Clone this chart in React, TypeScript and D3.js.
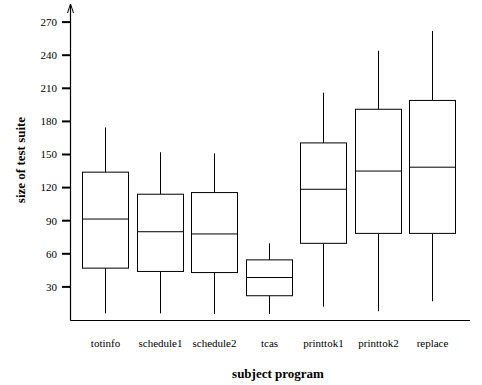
import * as d3 from 'd3'

const programs = ['totinfo', 'schedule1', 'schedule2', 'tcas', 'printtok1', 'printtok2', 'replace']
const whiskerLow = [6, 6, 5.5, 5.5, 12, 8, 17]
const q1 = [47, 44, 43, 22, 69.5, 78.5, 78.5]
const medians = [91.5, 80, 78, 38.5, 118.5, 135, 138.5]
const q3 = [134, 114, 115.5, 54.5, 160.5, 191, 199]
const whiskerHigh = [174.5, 152, 151, 69.5, 206, 244, 262]
const yTicks = [30, 60, 90, 120, 150, 180, 210, 240, 270]

const W = 482
const H = 385
const font = '"Liberation Serif", "Times New Roman", serif'

export default function App() {
  const x = d3.scaleBand<string>()
    .domain(programs)
    .range([78, 459.5])
    .paddingInner(0.165)
    .paddingOuter(0.0825)

  const y = d3.scaleLinear().domain([0, 30]).range([320, 286.9])

  const axisX = 70.5
  const baseY = 320.5
  const bw = x.bandwidth()

  return (
    <svg width={W} height={H} style={{ position: 'absolute', left: 0, top: 0, background: '#fff' }}>
      {/* y axis with arrow */}
      <line x1={axisX} x2={axisX} y1={baseY} y2={4} stroke="#000" strokeWidth={1.2} />
      <path d={`M${axisX - 3},${13} L${axisX},${4} L${axisX + 3},${13}`} fill="none" stroke="#000" strokeWidth={1} />
      {/* x axis */}
      <line x1={axisX} x2={470} y1={baseY} y2={baseY} stroke="#000" strokeWidth={1.2} />

      {yTicks.map(t => (
        <g key={t}>
          <line x1={62} x2={axisX} y1={y(t)} y2={y(t)} stroke="#000" strokeWidth={2} />
          <text x={57} y={y(t)} dy="0.35em" textAnchor="end" fontFamily={font} fontSize={11}>{t}</text>
        </g>
      ))}

      {programs.map((p, i) => {
        const x0 = Math.round(x(p)!) + 0.5
        const cx = Math.round(x(p)! + bw / 2) + 0.5
        return (
          <g key={p} stroke="#000" strokeWidth={1} fill="none">
            <line x1={cx} x2={cx} y1={y(whiskerHigh[i])} y2={y(q3[i])} />
            <line x1={cx} x2={cx} y1={y(q1[i])} y2={y(whiskerLow[i])} />
            <rect x={x0} y={y(q3[i])} width={Math.round(bw)} height={y(q1[i]) - y(q3[i])} fill="#fff" />
            <line x1={x0} x2={x0 + Math.round(bw)} y1={y(medians[i])} y2={y(medians[i])} />
            <text x={cx} y={347} textAnchor="middle" fontFamily={font} fontSize={11} fill="#000" stroke="none">{p}</text>
          </g>
        )
      })}

      <text x={278} y={378} textAnchor="middle" fontFamily={font} fontSize={13} fontWeight="bold">subject program</text>
      <text transform="translate(25,160) rotate(-90)" textAnchor="middle" fontFamily={font} fontSize={13} fontWeight="bold">size of test suite</text>
    </svg>
  )
}
